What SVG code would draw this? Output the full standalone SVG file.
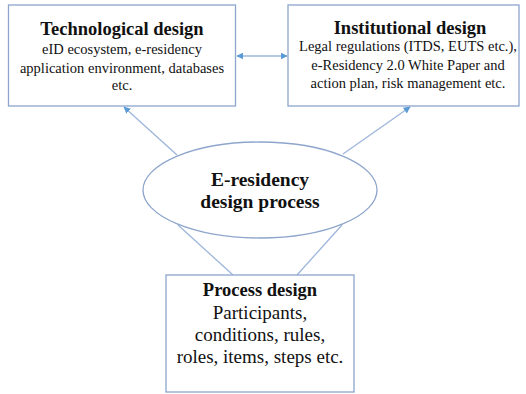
<svg xmlns="http://www.w3.org/2000/svg" width="526" height="394" viewBox="0 0 526 394">
  <defs>
    <style>
      .box { fill: #ffffff; stroke: #8ea5cc; stroke-width: 1.3; }
      .link { stroke: #9db6db; stroke-width: 1.3; fill: none; }
      .txt { font-family: "Liberation Serif", "Times New Roman", serif; fill: #111111; text-anchor: middle; }
      .title { font-weight: bold; font-size: 18.5px; }
      .body { font-size: 14.5px; }
      .big { font-size: 19px; }
      .ell { font-weight: bold; font-size: 19.5px; }
    </style>
    <marker id="head" viewBox="0 0 10 10" refX="9" refY="5" markerWidth="7" markerHeight="7" markerUnits="userSpaceOnUse" orient="auto-start-reverse">
      <path d="M0,0 L10,5 L0,10 z" fill="#5b9bd5"/>
    </marker>
  </defs>

  <rect width="526" height="394" fill="#ffffff"/>

  <!-- connectors -->
  <g id="connectors">
    <line class="link" x1="237" y1="56" x2="287" y2="56" marker-start="url(#head)" marker-end="url(#head)"/>
    <line class="link" x1="177" y1="155" x2="124" y2="107" marker-end="url(#head)"/>
    <line class="link" x1="343" y1="154" x2="410" y2="107" marker-end="url(#head)"/>
    <line class="link" x1="178" y1="225" x2="233" y2="275"/>
    <line class="link" x1="342" y1="225" x2="297" y2="275"/>
  </g>

  <!-- technological design -->
  <g id="technological">
    <rect class="box" x="8.5" y="5" width="227" height="101"/>
    <text class="txt title" x="122" y="35">Technological design</text>
    <text class="txt body" x="122" y="54">eID ecosystem, e-residency</text>
    <text class="txt body" x="122" y="73">application environment, databases</text>
    <text class="txt body" x="122" y="90">etc.</text>
  </g>

  <!-- institutional design -->
  <g id="institutional">
    <rect class="box" x="288" y="5" width="231" height="101"/>
    <text class="txt title" x="410" y="34">Institutional design</text>
    <text class="txt body" x="408" y="51">Legal regulations (ITDS, EUTS etc.),</text>
    <text class="txt body" x="408" y="70">e-Residency 2.0 White Paper and</text>
    <text class="txt body" x="408" y="88">action plan, risk management etc.</text>
  </g>

  <!-- central process -->
  <g id="process-core">
    <ellipse class="box" cx="260" cy="190" rx="117" ry="48"/>
    <text class="txt ell" x="260" y="186">E-residency</text>
    <text class="txt ell" x="260" y="208">design process</text>
  </g>

  <!-- process design -->
  <g id="process">
    <rect class="box" x="166" y="275" width="188" height="117"/>
    <text class="txt title" x="260" y="296">Process design</text>
    <text class="txt big" x="260" y="319">Participants,</text>
    <text class="txt big" x="260" y="341">conditions, rules,</text>
    <text class="txt big" x="260" y="363">roles, items, steps etc.</text>
  </g>
</svg>
